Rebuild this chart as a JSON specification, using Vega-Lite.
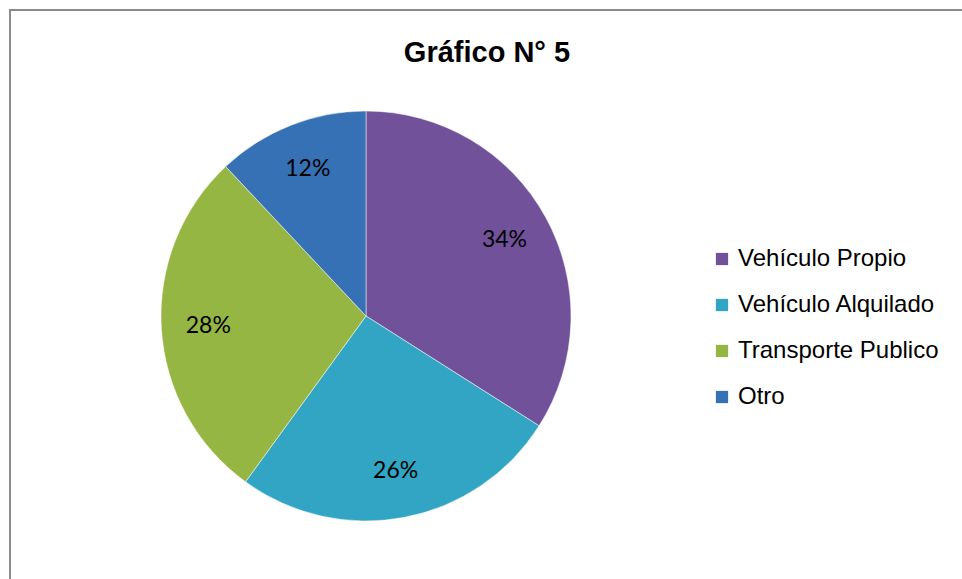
{
  "$schema": "https://vega.github.io/schema/vega-lite/v6.json",
  "autosize": {"type": "fit", "contains": "padding"},
  "width": 962,
  "height": 579,
  "padding": {"left": 9, "top": 9, "right": -3, "bottom": -3},
  "background": "white",
  "title": {
    "text": "Gráfico N° 5",
    "font": "Liberation Sans",
    "fontSize": 29,
    "fontWeight": "bold",
    "color": "#000000",
    "anchor": "middle",
    "frame": "group",
    "offset": -59
  },
  "data": {
    "values": [
      {"categoria": "Vehículo Propio", "valor": 34, "etiqueta": "34%", "orden": 1},
      {"categoria": "Vehículo Alquilado", "valor": 26, "etiqueta": "26%", "orden": 2},
      {"categoria": "Transporte Publico", "valor": 28, "etiqueta": "28%", "orden": 3},
      {"categoria": "Otro", "valor": 12, "etiqueta": "12%", "orden": 4}
    ]
  },
  "layer": [
    {
      "mark": {"type": "rect", "fill": null, "stroke": "#8a8a8a", "strokeWidth": 1.5},
      "encoding": {}
    },
    {
      "mark": {"type": "arc", "outerRadius": 205, "x": 356, "y": 306, "stroke": "white", "strokeWidth": 0.5},
      "encoding": {
        "theta": {"field": "valor", "type": "quantitative", "stack": true},
        "order": {"field": "orden", "type": "quantitative"},
        "color": {
          "field": "categoria",
          "type": "nominal",
          "sort": ["Vehículo Propio", "Vehículo Alquilado", "Transporte Publico", "Otro"],
          "scale": {
            "domain": ["Vehículo Propio", "Vehículo Alquilado", "Transporte Publico", "Otro"],
            "range": ["#71519A", "#31A5C3", "#96B643", "#3670B5"]
          },
          "legend": {
            "title": null,
            "orient": "none",
            "legendX": 700,
            "legendY": 237,
            "labelFont": "Liberation Sans",
            "labelFontSize": 24,
            "labelColor": "#000000",
            "labelLimit": 300,
            "labelOffset": 4,
            "symbolType": "square",
            "symbolSize": 150,
            "symbolStrokeWidth": 0,
            "rowPadding": 22
          }
        }
      }
    },
    {
      "mark": {"type": "text", "radius": 158, "x": 356, "y": 306, "font": "Lato", "fontSize": 23, "color": "#000000"},
      "encoding": {
        "theta": {"field": "valor", "type": "quantitative", "stack": true},
        "order": {"field": "orden", "type": "quantitative"},
        "text": {"field": "etiqueta", "type": "nominal"}
      }
    }
  ],
  "config": {
    "view": {"stroke": null}
  }
}
